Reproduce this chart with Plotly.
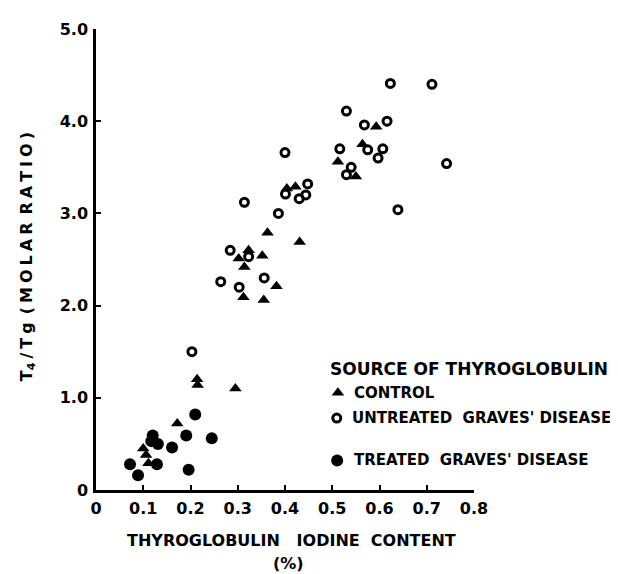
import plotly.graph_objects as go

# ---- data ----
control_x = [0.100, 0.106, 0.111, 0.172, 0.214, 0.215, 0.295, 0.302, 0.312, 0.314,
             0.323, 0.352, 0.355, 0.363, 0.382, 0.404, 0.422, 0.431, 0.512, 0.550,
             0.564, 0.593]
control_y = [0.45, 0.38, 0.29, 0.72, 1.20, 1.14, 1.10, 2.51, 2.09, 2.42,
             2.60, 2.54, 2.06, 2.79, 2.21, 3.27, 3.29, 2.69, 3.56, 3.40,
             3.75, 3.94]

untreated_x = [0.203, 0.264, 0.284, 0.303, 0.323, 0.356, 0.314, 0.386, 0.400, 0.401,
               0.430, 0.444, 0.448, 0.516, 0.530, 0.530, 0.540, 0.568, 0.575, 0.597,
               0.607, 0.616, 0.623, 0.639, 0.711, 0.742]
untreated_y = [1.50, 2.26, 2.60, 2.20, 2.53, 2.30, 3.12, 3.00, 3.66, 3.21,
               3.16, 3.20, 3.32, 3.70, 4.11, 3.42, 3.50, 3.96, 3.69, 3.60,
               3.70, 4.00, 4.41, 3.04, 4.40, 3.54]

treated_x = [0.072, 0.089, 0.120, 0.117, 0.131, 0.129, 0.161, 0.191, 0.210, 0.245, 0.196]
treated_y = [0.28, 0.16, 0.59, 0.53, 0.50, 0.28, 0.46, 0.59, 0.82, 0.56, 0.22]

x_tick_vals = [0, 0.1, 0.2, 0.3, 0.4, 0.5, 0.6, 0.7, 0.8]
x_tick_text = ["0", "0.1", "0.2", "0.3", "0.4", "0.5", "0.6", "0.7", "0.8"]
y_tick_vals = [0, 1, 2, 3, 4, 5]
y_tick_text = ["0", "1.0", "2.0", "3.0", "4.0", "5.0"]

legend_title = "SOURCE OF THYROGLOBULIN"
legend_labels = ["CONTROL", "UNTREATED  GRAVES' DISEASE", "TREATED  GRAVES' DISEASE"]

FONT = "DejaVu Sans"
SP = "\u2005"  # small space used to mimic the wide letter spacing

def spaced(s):
    return SP.join(list(s))

fig = go.Figure()
fig.add_trace(go.Scatter(x=control_x, y=control_y, mode="markers", name="Control",
                         marker=dict(symbol="triangle-up", size=11, color="black")))
fig.add_trace(go.Scatter(x=untreated_x, y=untreated_y, mode="markers", name="Untreated",
                         marker=dict(symbol="circle-open", size=8, color="black",
                                     line=dict(width=3, color="black"))))
fig.add_trace(go.Scatter(x=treated_x, y=treated_y, mode="markers", name="Treated",
                         marker=dict(symbol="circle", size=12, color="black")))

# legend markers on an invisible overlay axis (0..1 coordinates of the plot area)
leg_mx = [0.640, 0.637, 0.638]
leg_my = [0.211, 0.156, 0.064]
fig.add_trace(go.Scatter(x=[leg_mx[0]], y=[leg_my[0]], xaxis="x2", yaxis="y2", mode="markers",
                         marker=dict(symbol="triangle-up", size=11, color="black"),
                         hoverinfo="skip"))
fig.add_trace(go.Scatter(x=[leg_mx[1]], y=[leg_my[1]], xaxis="x2", yaxis="y2", mode="markers",
                         marker=dict(symbol="circle-open", size=8, color="black",
                                     line=dict(width=3, color="black")),
                         hoverinfo="skip"))
fig.add_trace(go.Scatter(x=[leg_mx[2]], y=[leg_my[2]], xaxis="x2", yaxis="y2", mode="markers",
                         marker=dict(symbol="circle", size=12, color="black"),
                         hoverinfo="skip"))

axis_common = dict(showline=True, linecolor="black", linewidth=2.5, ticks="inside",
                   ticklen=5, tickwidth=2, tickcolor="black", showgrid=False,
                   zeroline=False, mirror=False,
                   tickfont=dict(family=FONT, size=16, color="black", weight="bold"))

# the page body has an 8px margin, so the figure is made 8px smaller and margins reduced
fig.update_layout(
    width=610, height=566,
    margin=dict(l=88, r=144, t=12, b=84),
    paper_bgcolor="white", plot_bgcolor="white",
    showlegend=False,
    xaxis=dict(range=[0, 0.8], tickvals=x_tick_vals, ticktext=x_tick_text,
               ticklabelstandoff=2, **axis_common),
    yaxis=dict(range=[0, 5.0], tickvals=y_tick_vals, ticktext=y_tick_text,
               ticklabelstandoff=2, **axis_common),
    xaxis2=dict(range=[0, 1], overlaying="x", anchor="y2", visible=False),
    yaxis2=dict(range=[0, 1], overlaying="y", anchor="x2", visible=False),
)

ann_font = dict(family=FONT, color="black", weight="bold")
fig.add_annotation(text="T<sub>4</sub>" + SP + "/" + SP + spaced("Tg") + SP + SP + spaced("(MOLAR") + SP + SP + spaced("RATIO)"),
                   xref="paper", yref="paper",
                   x=-0.1825, y=0.505, xanchor="center", yanchor="middle",
                   textangle=-90, showarrow=False, font=dict(size=16, **ann_font))
fig.add_annotation(text="THYROGLOBULIN   IODINE  CONTENT", xref="paper", yref="paper",
                   x=0.516, y=-0.1085, xanchor="center", yanchor="middle",
                   showarrow=False, font=dict(size=16, **ann_font))
fig.add_annotation(text="(%)", xref="paper", yref="paper",
                   x=0.51, y=-0.16, xanchor="center", yanchor="middle",
                   showarrow=False, font=dict(size=16, **ann_font))

fig.add_annotation(text=legend_title, xref="paper", yref="paper", x=0.6138, y=0.2617,
                   xanchor="left", yanchor="middle", showarrow=False,
                   font=dict(size=17, **ann_font))
leg_tx = [0.677, 0.672, 0.677]
for lbl, tx, ty in zip(legend_labels, leg_tx, leg_my):
    fig.add_annotation(text=lbl, xref="paper", yref="paper", x=tx, y=ty,
                       xanchor="left", yanchor="middle", showarrow=False,
                       font=dict(size=15, **ann_font))

fig.write_html("out.html")
